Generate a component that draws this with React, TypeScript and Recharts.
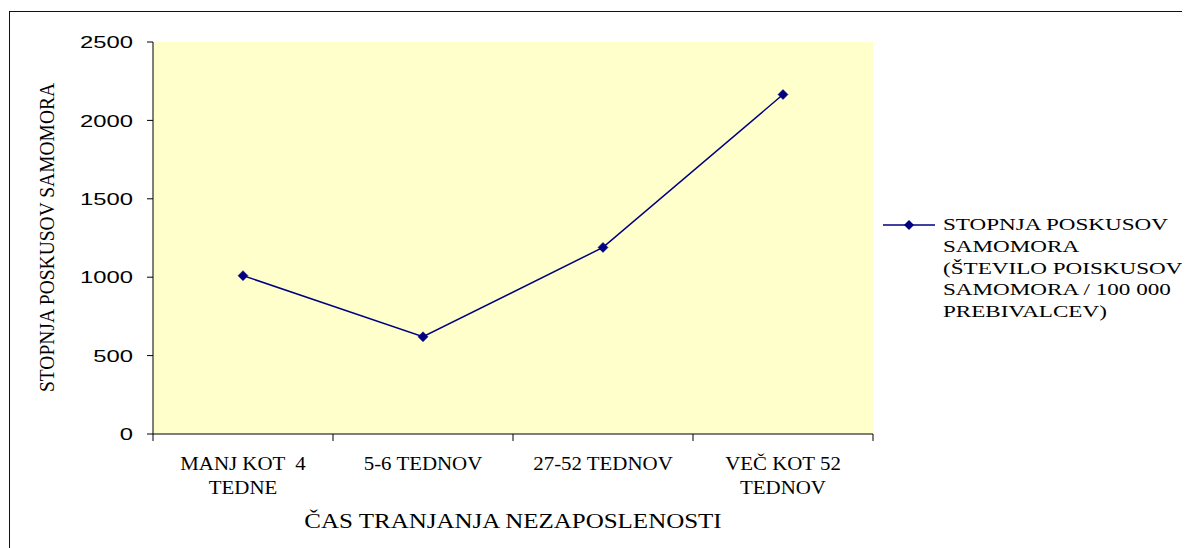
import React from 'react';
import { LineChart, Line, XAxis, YAxis, CartesianGrid, Legend } from 'recharts';

const categories = ['MANJ KOT  4\nTEDNE', '5-6 TEDNOV', '27-52 TEDNOV', 'VEČ KOT 52\nTEDNOV'];
const attemptRate = [1010, 620, 1190, 2165];
const yTicks = [0, 500, 1000, 1500, 2000, 2500];
const seriesName = 'STOPNJA POSKUSOV SAMOMORA (ŠTEVILO POISKUSOV SAMOMORA / 100 000 PREBIVALCEV)';
const legendLines = ['STOPNJA POSKUSOV', 'SAMOMORA', '(ŠTEVILO POISKUSOV', 'SAMOMORA / 100 000', 'PREBIVALCEV)'];
const xTitle = 'ČAS TRANJANJA NEZAPOSLENOSTI';
const yTitle = 'STOPNJA POSKUSOV SAMOMORA';

const data = categories.map((c, i) => ({ cat: c, value: attemptRate[i] }));

const NAVY = '#000080';
const SERIF = '"Liberation Serif", "Times New Roman", serif';
const SANS = '"Liberation Sans", Arial, sans-serif';

const W = 1182;
const H = 540;
const MARGIN = { top: 34, right: 317, bottom: 0, left: 0 };
const Y_W = 145;
const X_H = 114;

const Diamond = (props: any) => {
  const { cx, cy } = props;
  if (cx == null || cy == null) return null;
  return <polygon points={`${cx - 5},${cy} ${cx},${cy - 5} ${cx + 5},${cy} ${cx},${cy + 5}`} fill={NAVY} stroke={NAVY} strokeWidth={0.5} />;
};

const XTick = (props: any) => {
  const { x, y, payload, index, visibleTicksCount } = props;
  const plotW = W - MARGIN.left - MARGIN.right - Y_W;
  const half = payload && payload.offset ? payload.offset : plotW / categories.length / 2;
  const lines = String(payload.value).split('\n');
  return (
    <g>
      <line x1={x - half} x2={x - half} y1={y} y2={y + 7} stroke="#000" strokeWidth={1} />
      {index === visibleTicksCount - 1 && (
        <line x1={x + half} x2={x + half} y1={y} y2={y + 7} stroke="#000" strokeWidth={1} />
      )}
      <g transform={`translate(${x},${y + 36}) scale(1.1,1)`}>
        {lines.map((l, i) => (
          <text key={i} x={0} y={i * 24} textAnchor="middle" fontFamily={SERIF} fontSize={19} fill="#000" style={{ whiteSpace: 'pre' }}>
            {l}
          </text>
        ))}
      </g>
    </g>
  );
};

const YTick = (props: any) => {
  const { x, y, payload } = props;
  return (
    <g transform={`translate(${x},${y}) scale(1.4,1)`}>
      <text x={0} y={0} dy="0.36em" textAnchor="end" fontFamily={SANS} fontSize={17} fill="#000">
        {payload.value}
      </text>
    </g>
  );
};

const XTitle = (props: any) => {
  const vb = props.viewBox || { x: Y_W, y: 426, width: 720, height: X_H };
  const cx = vb.x + vb.width / 2;
  const cy = vb.y + 94;
  return (
    <g transform={`translate(${cx},${cy}) scale(1.25,1)`}>
      <text x={0} y={0} textAnchor="middle" fontFamily={SERIF} fontSize={20} fill="#000">
        {xTitle}
      </text>
    </g>
  );
};

const YTitle = (props: any) => {
  const vb = props.viewBox || { x: 0, y: 34, width: Y_W, height: 392 };
  const cx = 39;
  const cy = vb.y + 196 - 0.5;
  return (
    <g transform={`translate(${cx},${cy}) scale(1.05,1) rotate(-90)`}>
      <text x={0} y={0} dy="0.35em" textAnchor="middle" fontFamily={SERIF} fontSize={19.5} fill="#000">
        {yTitle}
      </text>
    </g>
  );
};

const LegendContent = () => (
  <div style={{ display: 'flex', alignItems: 'flex-start' }}>
    <svg width={60} height={22} style={{ flex: 'none' }}>
      <line x1={0} x2={52} y1={11} y2={11} stroke={NAVY} strokeWidth={1.5} />
      <polygon points="21,11 26,6 31,11 26,16" fill={NAVY} />
    </svg>
    <div
      style={{
        fontFamily: SERIF,
        fontSize: 16.5,
        lineHeight: '21.8px',
        color: '#000',
        whiteSpace: 'nowrap',
        transform: 'scaleX(1.4)',
        transformOrigin: 'left top',
      }}
    >
      {legendLines.map((l, i) => (
        <div key={i}>{l}</div>
      ))}
    </div>
  </div>
);

export default function App() {
  return (
    <div style={{ position: 'relative', width: W, height: H, overflow: 'hidden', background: '#fff' }}>
      <div
        style={{
          position: 'absolute',
          left: 1,
          top: 3,
          width: 1400,
          height: 800,
          border: '1.5px solid #111',
          boxSizing: 'border-box',
        }}
      />
      <LineChart width={W} height={H} data={data} margin={MARGIN}>
        <CartesianGrid horizontal={false} vertical={false} fill="#FFFFCC" xAxisId="bottom" yAxisId="left" />
        <XAxis
          xAxisId="bottom"
          dataKey="cat"
          scale="band"
          height={X_H}
          axisLine={{ stroke: '#000', strokeWidth: 1 }}
          tickLine={false}
          tickSize={0}
          tickMargin={0}
          interval={0}
          tick={<XTick />}
          label={<XTitle />}
        />
        <XAxis xAxisId="top" orientation="top" dataKey="cat" scale="band" height={0} tick={false} tickLine={false} axisLine={{ stroke: '#808080', strokeWidth: 2 }} />
        <YAxis
          yAxisId="left"
          width={Y_W}
          domain={[0, 2500]}
          ticks={yTicks}
          interval={0}
          axisLine={{ stroke: '#000', strokeWidth: 1 }}
          tickLine={{ stroke: '#000', strokeWidth: 1 }}
          tickSize={6}
          tickMargin={14}
          tick={<YTick />}
          label={<YTitle />}
        />
        <YAxis yAxisId="right" orientation="right" width={0} domain={[0, 2500]} tick={false} tickLine={false} axisLine={{ stroke: '#808080', strokeWidth: 2 }} />
        <Legend
          layout="horizontal"
          verticalAlign="middle"
          align="center"
          content={<LegendContent />}
          wrapperStyle={{ left: 875, top: 206, width: 420 }}
        />
        <Line
          xAxisId="bottom"
          yAxisId="left"
          name={seriesName}
          type="linear"
          dataKey="value"
          stroke={NAVY}
          strokeWidth={1.5}
          dot={<Diamond />}
          activeDot={false}
          isAnimationActive={false}
        />
      </LineChart>
    </div>
  );
}
